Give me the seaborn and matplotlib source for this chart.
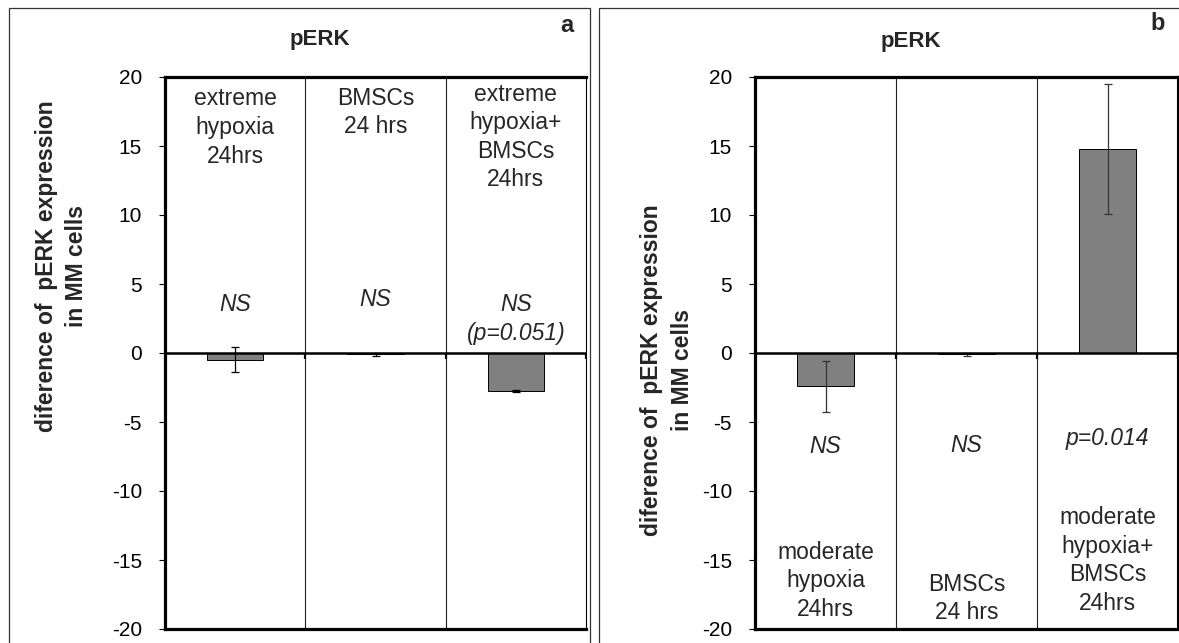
import matplotlib
matplotlib.use("Agg")
import matplotlib.pyplot as plt
import seaborn as sns
import pandas as pd
from matplotlib.patches import Rectangle

# ---------------- data ----------------
cats_a = ["extreme\nhypoxia\n24hrs", "BMSCs\n24 hrs", "extreme\nhypoxia+\nBMSCs\n24hrs"]
vals_a = [-0.5, -0.1, -2.75]
errs_a = [0.9, 0.12, 0.08]
sig_a = ["NS", "NS", "NS\n(p=0.051)"]

cats_b = ["moderate\nhypoxia\n24hrs", "BMSCs\n24 hrs", "moderate\nhypoxia+\nBMSCs\n24hrs"]
vals_b = [-2.4, -0.1, 14.8]
errs_b = [1.85, 0.12, 4.7]
sig_b = ["NS", "NS", "p=0.014"]

yticks = [-20, -15, -10, -5, 0, 5, 10, 15, 20]
ylabel = "diference of  pERK expression\nin MM cells"
title = "pERK"

# label placements (data y) -- layout only
cat_y_a = [19.25, 19.3, 19.6]
sig_y_a = [3.5, 3.85, 0.6]
cat_y_b = [-16.5, -17.8, -15.05]
sig_y_b = [-6.8, -6.7, -6.2]

sns.set_style("white")
plt.rcParams["font.family"] = ["Liberation Sans", "DejaVu Sans"]

W, H = 1179, 643
fig = plt.figure(figsize=(W / 100, H / 100), dpi=100)

# outer panel frames
for x0, x1 in [(9, 590), (599, 1185)]:
    fig.patches.append(Rectangle((x0 / W, -0.1), (x1 - x0) / W, 1 - 8 / H + 0.1,
                                 transform=fig.transFigure, fill=False,
                                 edgecolor="#333333", linewidth=0.9))

ax_a = fig.add_axes([165 / W, 14 / H, 421 / W, 552 / H])
ax_b = fig.add_axes([755 / W, 14 / H, 423 / W, 552 / H])

FS = 16.5


def draw(ax, cats, vals, errs, sigs, cat_y, sig_y, err_color, right_lw, ylab_xy):
    df = pd.DataFrame({"cat": cats, "val": vals})
    sns.barplot(data=df, x="cat", y="val", ax=ax, color="#808080", width=0.4,
                errorbar=None, saturation=1, edgecolor="black", linewidth=0.7,
                zorder=3)
    xs = [p.get_x() + p.get_width() / 2 for p in ax.patches]
    ax.errorbar(xs, vals, yerr=errs, fmt="none", ecolor=err_color, elinewidth=0.9,
                capsize=3, capthick=0.9, zorder=4)
    ax.set_xlim(-0.5, len(cats) - 0.5)
    ax.set_ylim(-20, 20)
    ax.set_yticks(yticks)
    ax.set_yticklabels([str(t) for t in yticks], fontsize=15)
    ax.set_xticks([])
    ax.set_xlabel("")
    ax.axhline(0, color="black", linewidth=1.8, zorder=5)
    for b in [i + 0.5 for i in range(len(cats) - 1)]:
        ax.axvline(b, color="#222222", linewidth=0.8, zorder=1)
    ax.vlines([i + 0.5 for i in range(len(cats))], -0.4, 0, color="black",
              linewidth=1.6, zorder=5)
    for side in ["left", "top", "bottom"]:
        ax.spines[side].set_linewidth(2.3)
        ax.spines[side].set_color("black")
    ax.spines["right"].set_linewidth(right_lw)
    ax.spines["right"].set_color("black")
    ax.tick_params(axis="y", direction="out", length=4.5, width=0.8, pad=12,
                   left=True, colors="black")
    for i, (c, y) in enumerate(zip(cats, cat_y)):
        ax.text(i, y, c, ha="center", va="center" if y < 0 else "top", fontsize=FS,
                linespacing=1.31, zorder=6)
    for i, (s, y) in enumerate(zip(sigs, sig_y)):
        ax.text(i, y, s, ha="center", va="bottom" if "\n" in s else "center",
                fontsize=FS, style="italic", linespacing=1.31, zorder=6)
    ax.set_ylabel(ylabel, fontsize=16.5, fontweight="bold", linespacing=1.4,
                  va="center", ha="center")
    ax.yaxis.set_label_coords(*ylab_xy)


draw(ax_a, cats_a, vals_a, errs_a, sig_a, cat_y_a, sig_y_a, "black", 0.8,
     (-0.245, 0.658))
draw(ax_b, cats_b, vals_b, errs_b, sig_b, cat_y_b, sig_y_b, "#333333", 1.5,
     (-0.208, 0.469))

fig.text(320 / W, 1 - 39 / H, title, ha="center", va="center", fontsize=16,
         fontweight="bold")
fig.text(911 / W, 1 - 41 / H, title, ha="center", va="center", fontsize=16,
         fontweight="bold")
fig.text(567 / W, 1 - 26 / H, "a", ha="center", va="center", fontsize=17,
         fontweight="bold")
fig.text(1158 / W, 1 - 23 / H, "b", ha="center", va="center", fontsize=17,
         fontweight="bold")

fig.savefig("out.png", dpi=100)
